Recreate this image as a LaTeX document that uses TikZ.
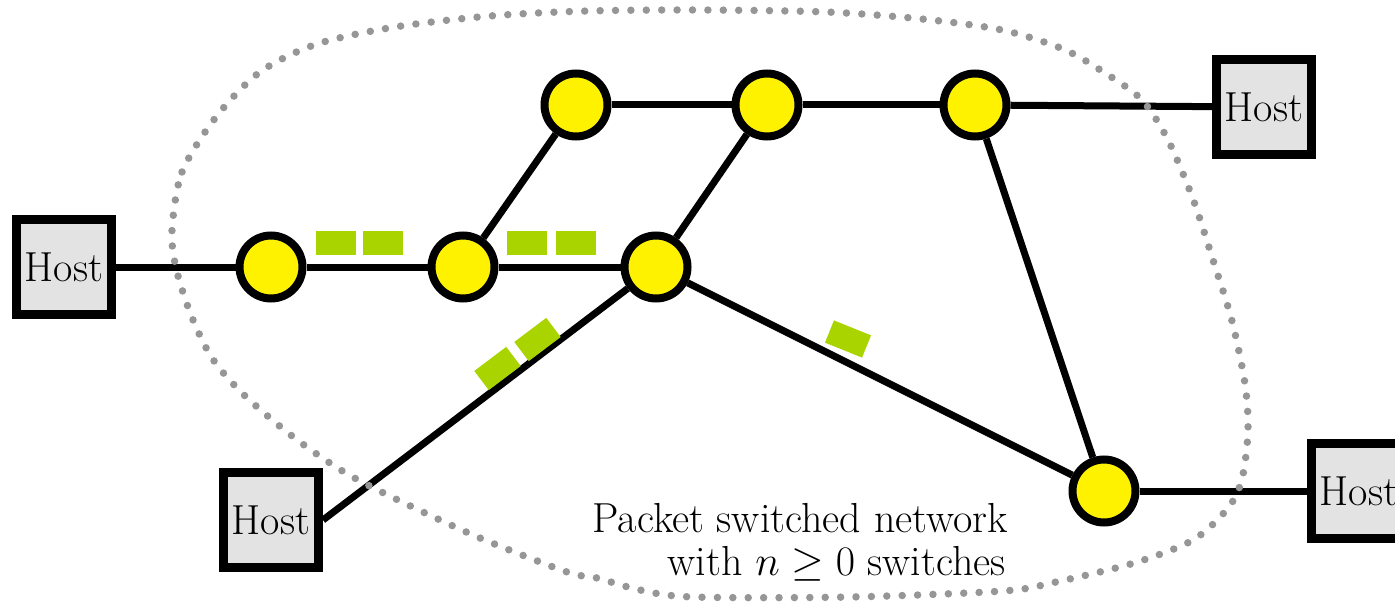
\documentclass[tikz,border=0pt]{standalone}
\usepackage{fontspec}
\usetikzlibrary{backgrounds}
\definecolor{packetgreen}{RGB}{170,212,0}
\definecolor{hostfill}{RGB}{227,227,227}
\definecolor{dotgray}{RGB}{150,150,150}
\begin{document}
\begin{tikzpicture}[x=1pt,y=-1pt,
  switchnode/.style={circle, draw=black, line width=8pt, fill=yellow, minimum size=63pt, inner sep=0pt},
  hostnode/.style={rectangle, draw=black, line width=9pt, fill=hostfill, minimum size=95pt, inner sep=0pt, font=\fontsize{42}{48}\selectfont},
  link/.style={draw=black, line width=7pt},
  packetbox/.style={fill=packetgreen, minimum width=40pt, minimum height=24pt, inner sep=0pt},
  boundary/.style={draw=dotgray, line width=7.5pt, line cap=round, dash pattern=on 0pt off 15.4pt},
  caption/.style={font=\fontsize{42}{48}\selectfont, inner sep=0pt}]
\clip (0,0) rectangle (1395,604);

% switches
\node[switchnode] (s1) at (271,267) {};
\node[switchnode] (s2) at (463,267) {};
\node[switchnode] (s3) at (656,267) {};
\node[switchnode] (s4) at (576,105) {};
\node[switchnode] (s5) at (767,105) {};
\node[switchnode] (s6) at (975,105) {};
\node[switchnode] (s7) at (1104,491) {};

% hosts
\node[hostnode] (h1) at (64,267) {Host};
\node[hostnode] (h2) at (1264,107) {Host};
\node[hostnode] (h3) at (271,520) {Host};
\node[hostnode] (h4) at (1359,491) {Host};

% links
\begin{pgfonlayer}{background}
\draw[link] (h1) -- (s1);
\draw[link] (s1) -- (s2);
\draw[link] (s2) -- (s3);
\draw[link] (s2) -- (s4);
\draw[link] (s4) -- (s5);
\draw[link] (s5) -- (s3);
\draw[link] (s5) -- (s6);
\draw[link] (s6) -- (h2);
\draw[link] (s6) -- (s7);
\draw[link] (s3) -- (s7);
\draw[link] (s7) -- (h4.west);
\draw[link] (s3) -- (h3.east);
\end{pgfonlayer}

% packets in flight
\node[packetbox] (p1) at (335.5,243) {};
\node[packetbox] (p2) at (383,243) {};
\node[packetbox] (p3) at (527,243) {};
\node[packetbox] (p4) at (575.5,243) {};
\node[packetbox, rotate=37] (p5) at (497.5,368.5) {};
\node[packetbox, rotate=37] (p6) at (537.5,339.5) {};
\node[packetbox, rotate=-22] (p7) at (848,339) {};

% network boundary
\draw[boundary] plot[smooth cycle] coordinates {
  (172,230) (182,172) (216,117) (260,72) (317,44) (395,27) (490,16)
  (587,11) (700,10) (826,12) (922,19) (1002,30) (1063,49) (1105,73)
  (1142,100) (1168,140) (1193,199) (1213,260) (1232,321) (1245,384)
  (1248,431) (1242,479) (1228,508) (1193,540) (1134,563) (1056,582)
  (1003,591) (850,597) (693,597) (640,590) (597,578) (567,572)
  (480,538) (400,501) (344,472) (292,436) (243,394) (212,358)
  (191,315) (176,268)};

% caption (math set at 24.88pt and enlarged to the 42pt text size)
\node[caption, anchor=base east] (t1) at (1008,532) {Packet switched network};
\node[caption, anchor=base east] (t2) at (1006,575) {with \scalebox{1.688}{$n\geq0$} switches};
\end{tikzpicture}
\end{document}
